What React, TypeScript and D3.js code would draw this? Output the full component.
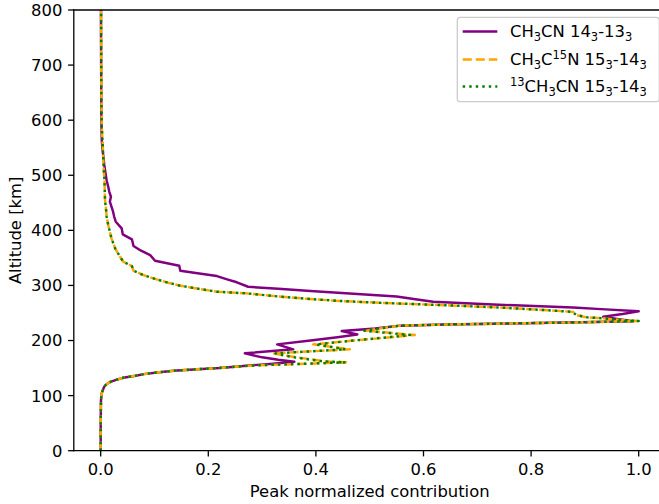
import React from 'react';
import * as d3 from 'd3';

// CH3CN 14_3-13_3 (purple, solid)
const altMain = [0, 50, 90, 98, 105, 110, 115, 119, 122, 125, 129, 132.5, 136, 139, 142, 145, 148, 150, 152.5, 155, 158, 161.5, 165, 169.5, 176.8, 184, 193, 200, 206, 211, 217.3, 222, 227, 229, 231, 233, 235, 239, 243, 248, 253, 257, 260, 265, 270.5, 275, 280, 285, 290, 294, 297.6, 305.7, 311, 317, 322, 326.7, 335.8, 344.9, 355, 363, 371.6, 383.7, 392.8, 403.7, 415.7, 425, 433.8, 452, 461, 470, 479, 491, 509.5, 520, 533.7, 550, 564, 600, 650, 700, 750, 800];
const valMain = [0, 0, 0.0005, 0.001, 0.002, 0.004, 0.006, 0.009, 0.013, 0.018, 0.03, 0.042, 0.065, 0.08, 0.105, 0.135, 0.18, 0.22, 0.25, 0.28, 0.32, 0.36, 0.33, 0.3, 0.268, 0.358, 0.328, 0.39, 0.44, 0.477, 0.448, 0.51, 0.556, 0.64, 0.76, 0.89, 0.99, 0.96, 0.934, 0.97, 1.0, 0.93, 0.878, 0.74, 0.618, 0.585, 0.55, 0.47, 0.39, 0.33, 0.274, 0.253, 0.235, 0.216, 0.18, 0.148, 0.146, 0.101, 0.092, 0.075, 0.061, 0.058, 0.041, 0.039, 0.028, 0.025, 0.023, 0.017, 0.019, 0.016, 0.014, 0.011, 0.008, 0.0065, 0.005, 0.003, 0.002, 0.0012, 0.001, 0.0008, 0.0006, 0.0005];

// CH3C15N 15_3-14_3 (orange, dashed)
const altC15N = [0, 50, 90, 98, 105, 110, 115, 119, 122, 125, 129, 132.5, 136, 139, 142, 145, 148, 150, 152.5, 155, 158, 160.4, 162, 166, 169.5, 175, 176.8, 184, 193, 200, 206, 210, 217.8, 222, 227, 229, 231, 233, 235.4, 237, 240.3, 242, 246, 252, 255, 260, 264.5, 268, 272, 276, 280, 285.7, 288.6, 295, 299.5, 305, 311, 319, 326.7, 335, 343, 352, 367, 385.5, 409.7, 424.8, 437, 455, 491, 521.7, 552, 570, 588, 650, 700, 800];
const valC15N = [0, 0, 0.0005, 0.001, 0.002, 0.004, 0.006, 0.009, 0.013, 0.018, 0.03, 0.042, 0.065, 0.08, 0.105, 0.135, 0.18, 0.22, 0.25, 0.29, 0.39, 0.46, 0.42, 0.39, 0.364, 0.33, 0.32, 0.463, 0.395, 0.47, 0.54, 0.584, 0.494, 0.52, 0.556, 0.64, 0.76, 0.89, 1.0, 0.97, 0.934, 0.903, 0.885, 0.878, 0.83, 0.74, 0.63, 0.53, 0.44, 0.38, 0.33, 0.27, 0.216, 0.175, 0.148, 0.125, 0.104, 0.079, 0.061, 0.058, 0.042, 0.036, 0.027, 0.02, 0.014, 0.011, 0.01, 0.008, 0.007, 0.005, 0.004, 0.003, 0.002, 0.0012, 0.001, 0.0008];

// 13CH3CN 15_3-14_3 (green, dotted)
const alt13C = altC15N;
const val13C = [0, 0, 0.0005, 0.001, 0.002, 0.004, 0.006, 0.009, 0.013, 0.018, 0.03, 0.042, 0.065, 0.08, 0.105, 0.135, 0.18, 0.22, 0.25, 0.29, 0.385, 0.455, 0.415, 0.385, 0.36, 0.33, 0.325, 0.455, 0.4, 0.47, 0.535, 0.575, 0.49, 0.52, 0.556, 0.64, 0.76, 0.89, 1.0, 0.97, 0.934, 0.905, 0.885, 0.876, 0.83, 0.74, 0.63, 0.53, 0.44, 0.38, 0.33, 0.27, 0.216, 0.175, 0.148, 0.125, 0.104, 0.079, 0.061, 0.058, 0.042, 0.036, 0.027, 0.02, 0.014, 0.011, 0.01, 0.008, 0.007, 0.005, 0.004, 0.003, 0.002, 0.0012, 0.001, 0.0008];

const xTicks = [0, 0.2, 0.4, 0.6, 0.8, 1.0];
const yTicks = [0, 100, 200, 300, 400, 500, 600, 700, 800];

type Part = [string, 'n' | 'sub' | 'sup'];
const legendLabels: Part[][] = [
  [['CH', 'n'], ['3', 'sub'], ['CN 14', 'n'], ['3', 'sub'], ['-13', 'n'], ['3', 'sub']],
  [['CH', 'n'], ['3', 'sub'], ['C', 'n'], ['15', 'sup'], ['N 15', 'n'], ['3', 'sub'], ['-14', 'n'], ['3', 'sub']],
  [['13', 'sup'], ['CH', 'n'], ['3', 'sub'], ['CN 15', 'n'], ['3', 'sub'], ['-14', 'n'], ['3', 'sub']],
];

const FS = 16.4;
const LW = 2.46;

const series = [
  { alt: altMain, val: valMain, color: 'purple', dash: undefined as string | undefined },
  { alt: altC15N, val: valC15N, color: 'orange', dash: `${3.7 * LW},${1.6 * LW}` },
  { alt: alt13C, val: val13C, color: 'green', dash: `${LW},${1.65 * LW}` },
];

const left = 73.8, right = 665.6, top = 10, bottom = 450.7;

function MathLabel({ parts, x, y }: { parts: Part[]; x: number; y: number }) {
  let cur = 0;
  return (
    <text x={x} y={y} fontSize={FS}>
      {parts.map(([t, k], i) => {
        const target = k === 'sub' ? 0.22 * FS : k === 'sup' ? -0.4 * FS : 0;
        const dy = target - cur;
        cur = target;
        return (
          <tspan key={i} dy={dy} fontSize={k === 'n' ? FS : FS * 0.7}>
            {t}
          </tspan>
        );
      })}
    </text>
  );
}

export default function App() {
  const x = d3.scaleLinear().domain([-0.05, 1.05]).range([left, right]);
  const y = d3.scaleLinear().domain([0, 800]).range([bottom, top]);

  const line = (alt: number[], val: number[]) =>
    d3.line<number>()
      .x((_, i) => x(val[i]))
      .y((a) => y(a))(alt) || '';

  const legX = 457.3, legY = 17.3, legW = 202, legH = 84.4;
  const rowBase = [37.3, 65.2, 92.3];

  return (
    <div style={{ position: 'absolute', left: 0, top: 0 }}>
      <svg width={659} height={504} style={{ display: 'block' }} fontFamily="'DejaVu Sans', sans-serif">
        <rect width={659} height={504} fill="white" />
        <defs>
          <clipPath id="plotclip">
            <rect x={left} y={top} width={right - left} height={bottom - top} />
          </clipPath>
        </defs>

        <g clipPath="url(#plotclip)" fill="none" strokeWidth={LW}>
          {series.map((s, i) => (
            <path key={i} d={line(s.alt, s.val)} stroke={s.color} strokeDasharray={s.dash} strokeLinejoin="round" />
          ))}
        </g>

        {/* spines */}
        <g stroke="black" strokeWidth={1.3} fill="none">
          <line x1={left} x2={left} y1={top} y2={bottom} strokeLinecap="square" />
          <line x1={left} x2={right} y1={bottom} y2={bottom} strokeLinecap="square" />
          <line x1={left} x2={right} y1={top} y2={top} strokeLinecap="square" />
          <line x1={right} x2={right} y1={top} y2={bottom} />
        </g>

        {/* x axis */}
        {xTicks.map((t) => (
          <g key={t} transform={`translate(${x(t)},${bottom})`}>
            <line y2={5.7} stroke="black" strokeWidth={1.3} />
            <text y={24} textAnchor="middle" fontSize={FS}>{t.toFixed(1)}</text>
          </g>
        ))}
        {/* y axis */}
        {yTicks.map((t) => (
          <g key={t} transform={`translate(${left},${y(t)})`}>
            <line x2={-5.7} stroke="black" strokeWidth={1.3} />
            <text x={-11.4} dy="0.36em" textAnchor="end" fontSize={FS}>{t}</text>
          </g>
        ))}

        <text x={(left + right) / 2} y={497.3} textAnchor="middle" fontSize={FS}>Peak normalized contribution</text>
        <text transform={`translate(21,${(top + bottom) / 2}) rotate(-90)`} textAnchor="middle" fontSize={FS}>Altitude [km]</text>

        {/* legend */}
        <rect x={legX} y={legY} width={legW} height={legH} rx={3.3} fill="white" fillOpacity={0.8} stroke="#cccccc" strokeWidth={1.3} />
        {series.map((s, i) => (
          <g key={i}>
            <line x1={462.7} x2={497.3} y1={rowBase[i] - 5.8} y2={rowBase[i] - 5.8} stroke={s.color} strokeWidth={LW} strokeDasharray={s.dash} />
            <MathLabel parts={legendLabels[i]} x={510} y={rowBase[i]} />
          </g>
        ))}
      </svg>
    </div>
  );
}
